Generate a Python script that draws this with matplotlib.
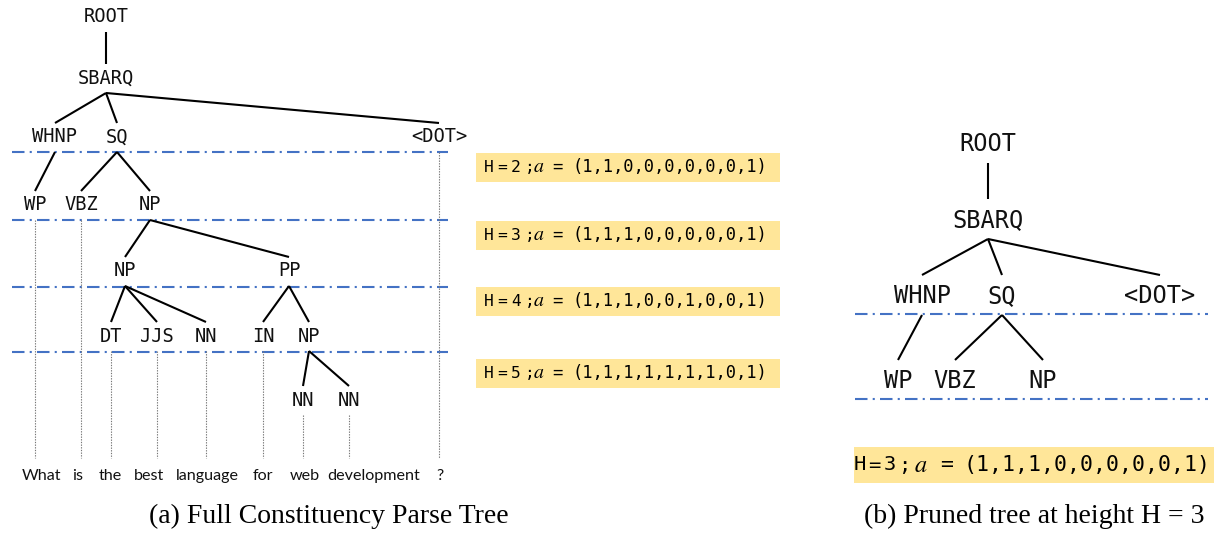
import matplotlib
matplotlib.use("Agg")
import matplotlib.pyplot as plt

# full parse tree (a)
full_labels = ["ROOT", "SBARQ", "WHNP", "SQ", "<DOT>", "WP", "VBZ", "NP",
               "NP", "PP", "DT", "JJS", "NN", "IN", "NP", "NN", "NN"]
full_parent = [-1, 0, 1, 1, 1, 2, 3, 3, 7, 7, 8, 8, 8, 9, 9, 14, 14]
# leaf node index -> word index
full_leaf_word = {5: 0, 6: 1, 10: 2, 11: 3, 12: 4, 13: 5, 15: 6, 16: 7, 4: 8}
words = ["What", "is", "the", "best", "language", "for", "web", "development", "?"]

# pruned tree (b)
pruned_labels = ["ROOT", "SBARQ", "WHNP", "SQ", "<DOT>", "WP", "VBZ", "NP"]
pruned_parent = [-1, 0, 1, 1, 1, 2, 3, 3]

# height -> alpha vectors
heights = [2, 3, 4, 5]
alphas = ["1,1,0,0,0,0,0,0,1",
          "1,1,1,0,0,0,0,0,1",
          "1,1,1,0,0,1,0,0,1",
          "1,1,1,1,1,1,1,0,1"]
pruned_height = 3
pruned_alpha = "1,1,1,0,0,0,0,0,1"

# layout (pixel coordinates)
full_x = [106, 106, 55, 117, 439, 35, 81, 150, 125, 289, 111, 157, 206, 263, 309, 303, 349]
full_y = [17, 78, 137, 137, 137, 205, 205, 205, 271, 271, 336, 336, 336, 336, 336, 400, 400]
word_x = [42, 78, 110, 149, 207, 263, 305, 374, 440]
full_hlines = [152, 220, 287, 352]
box_y = [167, 235, 301, 373]

pruned_x = [988, 988, 922, 1002, 1160, 898, 955, 1043]
pruned_y = [144, 220, 296, 296, 296, 381, 381, 381]
pruned_hlines = [314, 399]

MONO = "DejaVu Sans Mono"
BLUE = "#4472C4"
YELLOW = "#FFE699"
plt.rcParams["mathtext.fontset"] = "stix"

fig = plt.figure(figsize=(12.18, 5.33), dpi=100)
ax = fig.add_axes([0, 0, 1, 1])
ax.set_xlim(0, 1218)
ax.set_ylim(533, 0)
ax.axis("off")


def draw_tree(labels, parent, xs, ys, fs, off_down, off_up):
    for i, lab in enumerate(labels):
        ax.text(xs[i], ys[i], lab, family=MONO, fontsize=fs, ha="center",
                va="center", color="#111111")
        p = parent[i]
        if p >= 0:
            ax.plot([xs[p], xs[i]], [ys[p] + off_down, ys[i] - off_up],
                    color="black", lw=1.5, solid_capstyle="butt")


def draw_alpha(x0, y, h, vec, fs, pitch, a_x, eq_x, paren_x):
    # "H=2;" spaced out, italic a, then "= (1,...)"
    for k, ch in enumerate("H=%d;" % h):
        ax.text(x0 + k * pitch, y, ch, family=MONO, fontsize=fs * 0.95,
                ha="center", va="center")
    ax.text(a_x, y, "$a$", fontsize=fs + 2, ha="center", va="center")
    ax.text(eq_x, y, "=", family=MONO, fontsize=fs, ha="center", va="center")
    ax.text(paren_x, y, "(" + vec + ")", family=MONO, fontsize=fs, ha="left", va="center")


# ---- (a) full tree
for y in full_hlines:
    ax.plot([12, 448], [y, y], color=BLUE, lw=1.5, ls=(0, (6, 2.5, 1, 2.5)))

for node, w in full_leaf_word.items():
    ax.plot([full_x[node], full_x[node]], [full_y[node] + 15, 458],
            color="#777777", lw=0.8, ls=(0, (1.2, 1.2)))

draw_tree(full_labels, full_parent, full_x, full_y, 13.5, 15, 14)

for w, x in zip(words, word_x):
    ax.text(x, 476, w, family="Lato", fontsize=11.6, ha="center", va="center", color="#111111")

for y, h, vec in zip(box_y, heights, alphas):
    ax.add_patch(plt.Rectangle((476, y - 14.5), 304, 29, color=YELLOW, lw=0))
    draw_alpha(489, y, h, vec, 12.3, 13.5, 539, 557.5, 572)

ax.text(329, 516, "(a) Full Constituency Parse Tree", family="Liberation Serif",
        fontsize=20, ha="center", va="center")

# ---- (b) pruned tree
for y in pruned_hlines:
    ax.plot([855, 1208], [y, y], color=BLUE, lw=1.5, ls=(0, (6, 2.5, 1, 2.5)))

draw_tree(pruned_labels, pruned_parent, pruned_x, pruned_y, 17, 19, 21)

ax.add_patch(plt.Rectangle((854, 447), 360, 36, color=YELLOW, lw=0))
draw_alpha(859.5, 465, pruned_height, pruned_alpha, 15.5, 15.2, 921, 947, 963)

ax.text(1034, 516, "(b) Pruned tree at height H = 3", family="Liberation Serif",
        fontsize=20, ha="center", va="center")

fig.savefig("out.png", dpi=100)
